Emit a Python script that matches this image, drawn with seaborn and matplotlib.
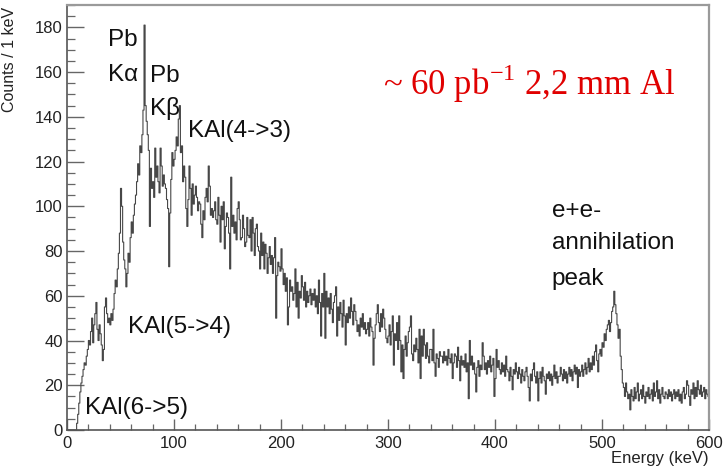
import numpy as np
import pandas as pd
import matplotlib
matplotlib.use("Agg")
import matplotlib.pyplot as plt
import seaborn as sns
from matplotlib.ticker import MultipleLocator

# ---- data: counts per 1 keV bin ----
counts_000_099 = [
    0, 0, 0, 0, 0, 0, 0, 0, 0, 3,
    7, 12, 17, 21, 24, 27, 30, 29, 33, 36,
    40, 38, 44, 50, 39, 47, 52, 57, 45, 40,
    47, 43, 38, 31, 36, 55, 59, 52, 48, 50,
    47, 52, 49, 54, 61, 67, 64, 72, 79, 88,
    108, 100, 84, 76, 72, 64, 70, 79, 75, 86,
    93, 88, 96, 101, 105, 111, 119, 114, 127, 124,
    132, 143, 181, 145, 138, 132, 125, 91, 117, 108,
    111, 104, 126, 113, 118, 111, 106, 126, 118, 109,
    114, 110, 108, 103, 99, 73, 97, 112, 124, 118,
]
counts_100_199 = [
    121, 125, 131, 127, 139, 145, 124, 127, 111, 118,
    113, 99, 91, 103, 118, 108, 96, 110, 101, 105,
    109, 104, 98, 102, 101, 92, 86, 98, 94, 104,
    108, 102, 118, 109, 96, 99, 95, 98, 102, 94,
    92, 104, 96, 84, 100, 94, 102, 81, 91, 97,
    95, 88, 72, 113, 91, 96, 88, 93, 85, 99,
    102, 94, 85, 86, 96, 90, 82, 84, 95, 87,
    86, 94, 80, 95, 88, 78, 90, 92, 82, 80,
    72, 88, 78, 84, 72, 83, 79, 70, 77, 82,
    74, 78, 70, 77, 86, 50, 69, 75, 73, 71,
]
counts_200_299 = [
    81, 72, 65, 70, 62, 68, 47, 55, 67, 62,
    64, 58, 61, 72, 55, 66, 50, 62, 59, 69,
    64, 58, 66, 55, 62, 57, 60, 63, 56, 61,
    58, 63, 55, 60, 52, 67, 57, 42, 61, 55,
    70, 41, 62, 55, 59, 52, 61, 54, 48, 57,
    60, 64, 42, 55, 49, 57, 52, 46, 58, 51,
    38, 52, 48, 55, 50, 59, 53, 47, 56, 53,
    49, 44, 47, 42, 50, 46, 52, 45, 48, 43,
    45, 48, 42, 50, 46, 44, 29, 41, 47, 52,
    56, 48, 44, 52, 46, 54, 50, 45, 41, 39,
]
counts_300_399 = [
    42, 47, 38, 44, 51, 29, 43, 40, 48, 36,
    51, 40, 26, 38, 23, 36, 42, 33, 39, 44,
    46, 51, 34, 31, 38, 35, 41, 36, 30, 45,
    23, 42, 33, 45, 38, 32, 39, 33, 30, 36,
    36, 31, 45, 30, 24, 34, 32, 28, 35, 33,
    33, 30, 35, 31, 33, 29, 36, 32, 30, 34,
    23, 30, 34, 33, 28, 37, 31, 22, 33, 29,
    31, 28, 34, 26, 30, 14, 40, 29, 33, 27,
    30, 25, 17, 28, 31, 24, 29, 27, 39, 33,
    27, 30, 25, 31, 28, 33, 26, 29, 32, 15,
]
counts_400_499 = [
    23, 36, 28, 31, 27, 25, 30, 26, 29, 24,
    33, 27, 26, 22, 28, 24, 18, 27, 25, 30,
    26, 23, 28, 25, 21, 27, 24, 22, 26, 28,
    24, 19, 13, 25, 22, 27, 30, 24, 21, 26,
    13, 23, 26, 21, 28, 24, 22, 16, 25, 23,
    26, 22, 25, 20, 24, 29, 23, 26, 21, 24,
    24, 28, 25, 22, 27, 23, 26, 21, 25, 28,
    24, 27, 22, 26, 29, 25, 28, 19, 27, 24,
    26, 29, 24, 27, 30, 25, 28, 32, 26, 30,
    27, 33, 29, 35, 38, 31, 26, 34, 36, 33,
]
counts_500_599 = [
    39, 37, 43, 40, 45, 47, 49, 44, 48, 53,
    55, 62, 56, 52, 47, 41, 45, 33, 27, 21,
    19, 15, 21, 17, 14, 16, 9, 18, 15, 13,
    19, 14, 17, 21, 13, 16, 18, 14, 20, 15,
    12, 17, 15, 19, 14, 16, 18, 13, 21, 15,
    17, 22, 14, 18, 12, 16, 19, 15, 14, 17,
    16, 14, 18, 15, 17, 13, 16, 18, 14, 17,
    15, 18, 13, 16, 12, 17, 19, 14, 16, 22,
    20, 15, 11, 18, 16, 21, 14, 19, 15, 22,
    18, 16, 20, 15, 17, 19, 14, 18, 16, 15,
]

x_ticks = [0, 100, 200, 300, 400, 500, 600]
y_ticks = [0, 20, 40, 60, 80, 100, 120, 140, 160, 180]

peak_labels = ["Pb", "K\u03b1", "Pb", "K\u03b2", "KAl(4->3)", "KAl(5->4)",
               "KAl(6->5)", "e+e-", "annihilation", "peak"]
peak_label_x = [38.4, 38.4, 77.7, 77.7, 113.3, 57.1, 16.8, 453, 453, 453]
peak_label_y = [171.6, 156.0, 155.5, 140.8, 131.0, 43.2, 7.1, 95.4, 81.0, 65.0]

counts = np.array(counts_000_099 + counts_100_199 + counts_200_299 +
                  counts_300_399 + counts_400_499 + counts_500_599, dtype=float)
centers = np.arange(len(counts)) + 0.5
df = pd.DataFrame({"energy": centers, "counts": counts})

# ---- style ----
sns.set_style("ticks")
plt.rcParams["font.family"] = ["Liberation Sans", "DejaVu Sans"]

fig = plt.figure(figsize=(7.25, 4.69), dpi=100)
ax = fig.add_axes([0.0924, 0.0832, 0.8855, 0.9062])

sns.histplot(data=df, x="energy", weights="counts", binwidth=1,
             binrange=(0, 600), element="step", fill=False,
             color="#474747", linewidth=0.8, ax=ax)

ax.set_xlim(0, 600)
ax.set_ylim(0, 190)
ax.set_xticks(x_ticks)
ax.set_yticks(y_ticks)
ax.xaxis.set_minor_locator(MultipleLocator(20))
ax.yaxis.set_minor_locator(MultipleLocator(5))
ax.tick_params(axis="both", which="major", direction="in", labelsize=12,
               colors="#666666", labelcolor="#222222", width=1.0)
ax.tick_params(axis="x", which="major", length=8, pad=4)
ax.tick_params(axis="y", which="major", length=12.5, pad=3)
ax.tick_params(axis="x", which="minor", direction="in", length=4.5,
               color="#666666", width=0.9)
ax.tick_params(axis="y", which="minor", direction="in", length=6,
               color="#666666", width=0.9)
ax.tick_params(top=False, right=False, which="both")
for side in ["left", "bottom"]:
    ax.spines[side].set_color("#555555")
    ax.spines[side].set_linewidth(1.2)
for side in ["top", "right"]:
    ax.spines[side].set_visible(True)
    ax.spines[side].set_color("#9a9a9a")
    ax.spines[side].set_linewidth(1.6)

ax.set_xlabel("")
ax.set_ylabel("")
ax.text(1.0, -0.05, "Energy (keV)", transform=ax.transAxes, ha="right",
        va="top", fontsize=12, color="#222222")
ax.text(-0.089, 0.995, "Counts / 1 keV", transform=ax.transAxes, ha="center",
        va="top", rotation=90, fontsize=11.5, color="#222222")

for lab, lx, ly in zip(peak_labels, peak_label_x, peak_label_y):
    ax.text(lx, ly, lab, ha="left", va="baseline", fontsize=17.5,
            color="#111111")

ax.text(295.8, 149.7, r"~ 60 pb$^{\mathregular{-1}}$ 2,2 mm Al", ha="left",
        va="baseline", fontsize=25, color="#e00000",
        family=["Liberation Serif", "DejaVu Serif"])

fig.savefig("out.png", dpi=100)
